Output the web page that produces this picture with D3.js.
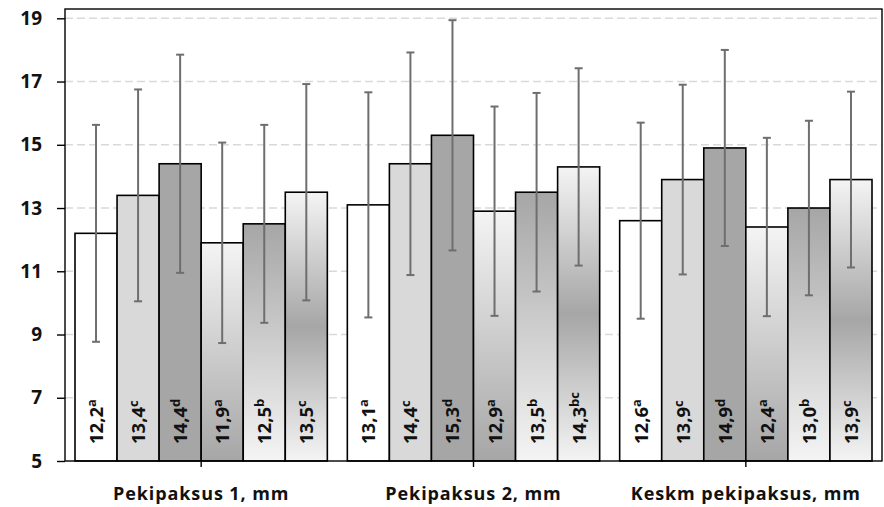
<!DOCTYPE html>
<html>
<head>
<meta charset="utf-8">
<script src="https://cdn.jsdelivr.net/npm/d3@7"></script>
<style>
  body { margin: 0; background: #fff; }
  svg { display: block; font-family: "Open Sans", Lato, sans-serif; }
</style>
</head>
<body>
<svg></svg>
<script>
// chart data
const categories = ["Pekipaksus 1, mm", "Pekipaksus 2, mm", "Keskm pekipaksus, mm"];
const seriesNames = ["s1", "s2", "s3", "s4", "s5", "s6"];
const means = [
  [12.2, 13.4, 14.4, 11.9, 12.5, 13.5],
  [13.1, 14.4, 15.3, 12.9, 13.5, 14.3],
  [12.6, 13.9, 14.9, 12.4, 13.0, 13.9]
];
const errors = [
  [3.43, 3.35, 3.45, 3.17, 3.13, 3.42],
  [3.56, 3.52, 3.64, 3.31, 3.14, 3.12],
  [3.10, 3.00, 3.10, 2.82, 2.76, 2.78]
];
const letters = [
  ["a", "c", "d", "a", "b", "c"],
  ["a", "c", "d", "a", "b", "bc"],
  ["a", "c", "d", "a", "b", "c"]
];
const yTicks = [5, 7, 9, 11, 13, 15, 17, 19];

const width = 884;
const height = 507;
const plot = { left: 65, right: 882, top: 9, bottom: 461 };

const svg = d3.select("svg")
  .attr("width", width)
  .attr("height", height);

// gradients for the last three series
const defs = svg.append("defs");
function gradient(id, stops) {
  const g = defs.append("linearGradient")
    .attr("id", id)
    .attr("x1", 0).attr("y1", 0).attr("x2", 0).attr("y2", 1);
  stops.forEach(s => g.append("stop").attr("offset", s[0]).attr("stop-color", s[1]));
}
gradient("g4", [[0, "#f4f4f4"], [1, "#a6a6a6"]]);
gradient("g5", [[0, "#a6a6a6"], [1, "#f4f4f4"]]);
gradient("g6", [[0, "#f4f4f4"], [0.5, "#a6a6a6"], [1, "#f4f4f4"]]);

const fills = ["#ffffff", "#d9d9d9", "#a6a6a6", "url(#g4)", "url(#g5)", "url(#g6)"];

// scales
const x = d3.scaleBand()
  .domain(categories)
  .range([plot.left, plot.right]);

const xInner = d3.scaleBand()
  .domain(seriesNames)
  .range([10, x.bandwidth() - 10]);

const y = d3.scaleLinear()
  .domain([5, 19])
  .range([plot.bottom, 18.3]);

// gridlines
svg.append("g")
  .selectAll("line")
  .data(yTicks.slice(1))
  .enter()
  .append("line")
  .attr("x1", plot.left)
  .attr("x2", plot.right)
  .attr("y1", d => y(d))
  .attr("y2", d => y(d))
  .attr("stroke", "#d9d9d9")
  .attr("stroke-width", 1.5)
  .attr("stroke-dasharray", "8,4");

// flatten rows
const rows = [];
categories.forEach((c, i) => {
  seriesNames.forEach((s, j) => {
    rows.push({ cat: c, ser: s, j: j, mean: means[i][j], err: errors[i][j], letter: letters[i][j] });
  });
});

const bx = d => x(d.cat) + xInner(d.ser);
const bw = xInner.bandwidth();

// bars
svg.append("g")
  .selectAll("rect")
  .data(rows)
  .enter()
  .append("rect")
  .attr("x", bx)
  .attr("y", d => y(d.mean))
  .attr("width", bw)
  .attr("height", d => y(5) - y(d.mean))
  .attr("fill", d => fills[d.j])
  .attr("stroke", "#000")
  .attr("stroke-width", 1.6);

// error bars
const eb = svg.append("g")
  .attr("stroke", "#6e6e6e")
  .attr("stroke-width", 2);

rows.forEach(d => {
  const cx = bx(d) + bw / 2;
  eb.append("line")
    .attr("x1", cx).attr("x2", cx)
    .attr("y1", y(d.mean + d.err)).attr("y2", y(d.mean - d.err));
  [d.mean + d.err, d.mean - d.err].forEach(v => {
    eb.append("line")
      .attr("x1", cx - 4).attr("x2", cx + 4)
      .attr("y1", y(v)).attr("y2", y(v));
  });
});

// value labels, rotated
const labels = svg.append("g")
  .selectAll("text")
  .data(rows)
  .enter()
  .append("text")
  .attr("transform", d => `translate(${bx(d) + bw / 2 + 7}, 444) rotate(-90)`)
  .attr("font-size", "18.5px")
  .attr("font-weight", "bold")
  .attr("fill", "#111");

labels.append("tspan")
  .text(d => d3.format(".1f")(d.mean).replace(".", ","));
labels.append("tspan")
  .attr("font-size", "13px")
  .attr("dy", "-7")
  .text(d => d.letter);

// plot frame
svg.append("rect")
  .attr("x", plot.left)
  .attr("y", plot.top)
  .attr("width", plot.right - plot.left)
  .attr("height", plot.bottom - plot.top)
  .attr("fill", "none")
  .attr("stroke", "#000")
  .attr("stroke-width", 1.4);

// axes
const yAxis = svg.append("g")
  .attr("transform", `translate(${plot.left}, 0)`)
  .call(d3.axisLeft(y).tickValues(yTicks).tickSize(8).tickPadding(15));
yAxis.select(".domain").remove();
yAxis.selectAll("line").attr("stroke", "#000").attr("stroke-width", 1.4);
yAxis.selectAll("text")
  .attr("font-family", "'Open Sans', sans-serif")
  .attr("font-size", "19px")
  .attr("font-weight", "bold")
  .attr("fill", "#111");

const xAxis = svg.append("g")
  .attr("transform", `translate(0, ${plot.bottom})`)
  .call(d3.axisBottom(x).tickSize(6).tickPadding(20));
xAxis.select(".domain").remove();
xAxis.selectAll("line").attr("stroke", "#000").attr("stroke-width", 1.4);
xAxis.selectAll("text")
  .attr("font-family", "'Open Sans', sans-serif")
  .attr("font-size", "18px")
  .attr("font-weight", "bold")
  .attr("letter-spacing", "0.9px")
  .attr("fill", "#111");
</script>
</body>
</html>
